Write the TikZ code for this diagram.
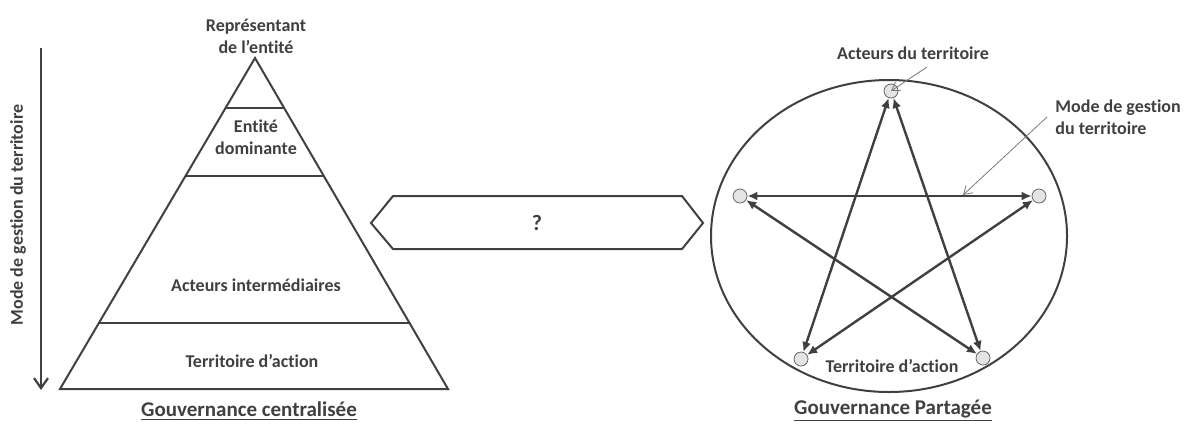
\documentclass[tikz,border=0pt]{standalone}
\usepackage{fontspec}
\setmainfont{Carlito}[Ligatures=NoCommon]
\usetikzlibrary{arrows.meta,calc}
\definecolor{ink}{HTML}{404040}
\definecolor{dotfill}{HTML}{E4E4E4}

\begin{document}
\begin{tikzpicture}[
    x=0.5pt, y=-0.5pt,
    every node/.style={text=ink, font=\bfseries\fontsize{9}{11}\selectfont, align=center, inner sep=1pt},
    title/.style={font=\bfseries\fontsize{10.5}{12}\selectfont},
    level/.style={draw=ink, line width=1pt},
    dot/.style={draw=ink!80, fill=dotfill, circle, minimum size=7pt, inner sep=0pt, line width=0.4pt},
    link/.style={draw=ink, line width=1.2pt, {Latex[length=5pt,width=4.5pt]}-{Latex[length=5pt,width=4.5pt]}},
    pointer/.style={draw=ink!70, line width=0.4pt, -{Straight Barb[length=4pt,width=5pt]}}
  ]
    \useasboundingbox (0,0) rectangle (1186,425);

    % pyramide
    \coordinate (apex) at (255,58);
    \coordinate (bl) at (60,389);
    \coordinate (br) at (448,389);
    \draw[level, line join=miter] (apex) -- (bl) -- (br) -- cycle;
    \draw[level] ($(apex)!0.151!(bl)$) -- ($(apex)!0.151!(br)$);
    \draw[level] ($(apex)!0.356!(bl)$) -- ($(apex)!0.356!(br)$);
    \draw[level] ($(apex)!0.801!(bl)$) -- ($(apex)!0.801!(br)$);

    \node (rep) at (256,36) {Représentant\\de l’entité};
    \node (dom) at (256,137) {Entité\\dominante};
    \node (inter) at (256,285) {Acteurs intermédiaires};
    \node (terr) at (252,361) {Territoire d’action};
    \node[title] (central) at (249,411) {\underline{Gouvernance centralisée}};

    \coordinate (top) at (41,48);
    \coordinate (bottom) at (41,390);
    \draw[draw=ink, line width=1.1pt, -{Straight Barb[length=5pt,width=7pt]}] (top) -- (bottom);
    \node[rotate=90] (mode) at (18,215) {Mode de gestion du territoire};

    % passage
    \draw[draw=ink, line width=1pt, line join=miter]
      (393,196) -- (371,223) -- (393,249) -- (682,249) -- (703,223) -- (682,196) -- cycle;
    \node[font=\bfseries\fontsize{11}{13}\selectfont] (q) at (537,223) {?};

    % etoile
    \draw[draw=ink, line width=1pt] (889,236) ellipse [x radius=178, y radius=156];
    \node[dot] (ptop) at (891,91) {};
    \node[dot] (pleft) at (740,196) {};
    \node[dot] (pright) at (1039,196) {};
    \node[dot] (pbl) at (801,359) {};
    \node[dot] (pbr) at (983,358) {};
    \draw[link] (ptop) -- (pbl);
    \draw[link] (ptop) -- (pbr);
    \draw[link] (pleft) -- (pright);
    \draw[link] (pleft) -- (pbr);
    \draw[link] (pright) -- (pbl);

    \node (acteurs) at (913,53) {Acteurs du territoire};
    \coordinate (a1) at (927,67);
    \draw[pointer] (a1) -- (ptop.center);
    \node[align=left, anchor=west] (gestion) at (1053,117) {Mode de gestion\\du territoire};
    \coordinate (g1) at (1047,117);
    \coordinate (g2) at (963,195);
    \draw[pointer] (g1) -- (g2);
    \node (action) at (892,366) {Territoire d’action};
    \node[title] (partage) at (893,411) {\underline{Gouvernance Partagée}};
\end{tikzpicture}
\end{document}
